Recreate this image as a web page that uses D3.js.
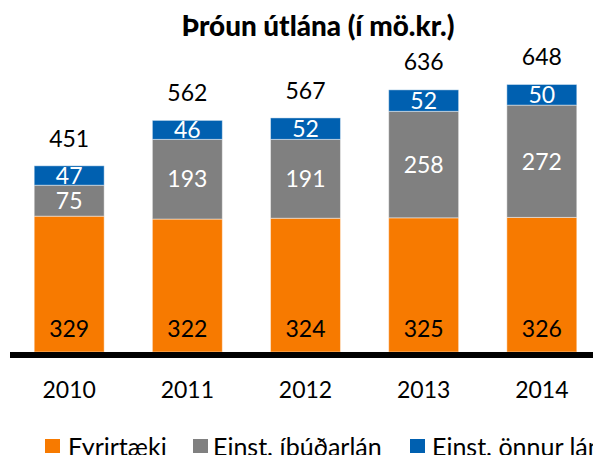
<!DOCTYPE html>
<html>
<head>
<meta charset="utf-8">
<script src="https://cdn.jsdelivr.net/npm/d3@7"></script>
<style>
  body { margin: 0; background: #fff; }
  svg { display: block; font-family: Lato, "Open Sans", sans-serif; }
</style>
</head>
<body>
<div id="chart"></div>
<script>
// data (ma.kr.)
const years = ["2010", "2011", "2012", "2013", "2014"];
const fyrirtaeki = [329, 322, 324, 325, 326];
const ibudarlan = [75, 193, 191, 258, 272];
const onnurLan = [47, 46, 52, 52, 50];
const totals = [451, 562, 567, 636, 648];

const seriesNames = ["Fyrirtæki", "Einst. íbúðarlán", "Einst. önnur lán"];
const seriesKeys = ["fyr", "ibud", "onnur"];
const colors = ["#F77A00", "#808080", "#0060B0"];

const width = 593, height = 455;

const data = years.map((y, i) => ({
  year: y, fyr: fyrirtaeki[i], ibud: ibudarlan[i], onnur: onnurLan[i], total: totals[i]
}));

const svg = d3.select("#chart")
  .append("svg")
  .attr("width", width)
  .attr("height", height);

const x = d3.scaleBand()
  .domain(years)
  .range([-14, 625])
  .padding(0.408);

const y = d3.scaleLinear()
  .domain([0, 700])
  .range([352, 63]);

const stack = d3.stack().keys(seriesKeys)(data);

// ========== bars ==========
const layers = svg.selectAll("g.layer")
  .data(stack)
  .enter().append("g")
  .attr("class", "layer")
  .attr("fill", (d, i) => colors[i]);

layers.selectAll("rect")
  .data(d => d)
  .enter().append("rect")
  .attr("x", d => x(d.data.year))
  .attr("y", d => y(d[1]))
  .attr("width", x.bandwidth())
  .attr("height", d => y(d[0]) - y(d[1]))
  .attr("stroke", "#ffffff")
  .attr("stroke-opacity", 0.45)
  .attr("stroke-width", 1);

// ========== segment labels ==========
const fs = 23;
stack.forEach((layer, i) => {
  svg.append("g").selectAll("text")
    .data(layer)
    .enter().append("text")
    .attr("x", d => x(d.data.year) + x.bandwidth() / 2)
    .attr("y", d => i === 0 ? y(d[0]) - 15 : (y(d[0]) + y(d[1])) / 2)
    .attr("dy", i === 0 ? 0 : "0.36em")
    .attr("text-anchor", "middle")
    .attr("font-size", fs)
    .attr("fill", i === 0 ? "#000" : "#fff")
    .text(d => d.data[seriesKeys[i]]);
});

// totals above bars
svg.append("g").selectAll("text")
  .data(data)
  .enter().append("text")
  .attr("x", d => x(d.year) + x.bandwidth() / 2)
  .attr("y", d => y(d.total) - 19)
  .attr("text-anchor", "middle")
  .attr("font-size", fs)
  .attr("fill", "#000")
  .text(d => d.total);

// ========== axis ==========
const xAxis = svg.append("g")
  .attr("transform", "translate(0,352)")
  .call(d3.axisBottom(x).tickSize(0).tickPadding(30));
xAxis.select(".domain").remove();
xAxis.selectAll("text")
  .attr("font-size", fs)
  .attr("font-family", "Lato, sans-serif")
  .attr("fill", "#000");

svg.append("line")
  .attr("x1", 10).attr("x2", width)
  .attr("y1", 355).attr("y2", 355)
  .attr("stroke", "#000")
  .attr("stroke-width", 6);

// ========== title ==========
const title = svg.append("text")
  .attr("x", 318)
  .attr("y", 36)
  .attr("text-anchor", "middle")
  .attr("font-size", 23)
  .attr("font-weight", "900")
  .text("Þróun útlána (í mö.kr.)");
// stretch to the reference width (~273px)
const tw = title.node().getComputedTextLength();
title.attr("font-size", 23 * 273 / tw);

// ========== legend ==========
const legendX = [45, 193, 410];
const legend = svg.append("g").selectAll("g")
  .data(seriesNames)
  .enter().append("g")
  .attr("transform", (d, i) => `translate(${legendX[i]},439)`);

legend.append("rect")
  .attr("width", 15).attr("height", 14)
  .attr("fill", (d, i) => colors[i]);

legend.append("text")
  .attr("x", (d, i) => [23, 20, 22][i])
  .attr("y", 17)
  .attr("font-size", 25)
  .attr("fill", "#000")
  .text(d => d);
</script>
</body>
</html>
